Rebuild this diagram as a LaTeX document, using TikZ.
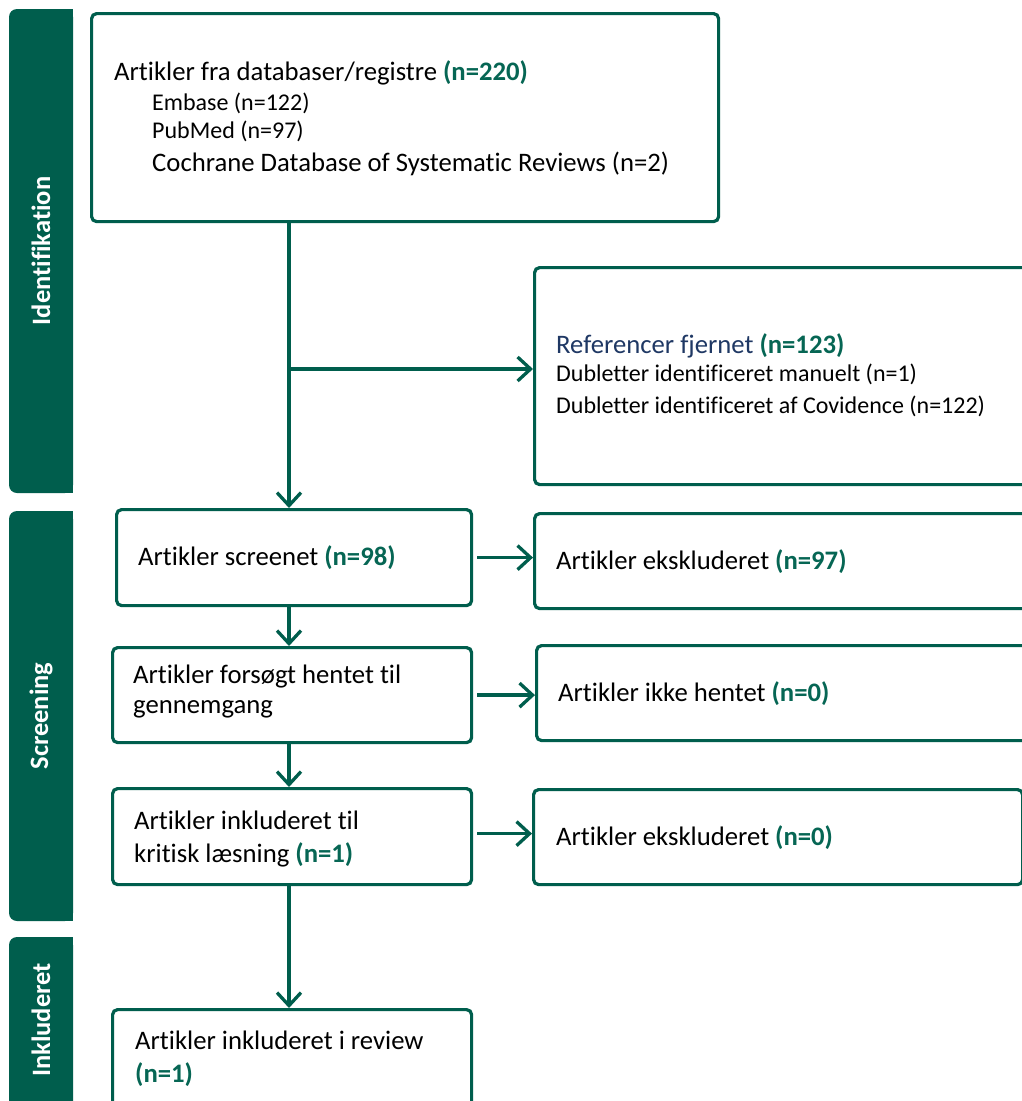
\documentclass[tikz,border=0pt]{standalone}
\usepackage{fontspec}
\setmainfont{Carlito}[Ligatures=NoCommon]
\usetikzlibrary{arrows.meta,calc}
\definecolor{dkgreen}{RGB}{0,94,77}
\definecolor{tgreen}{RGB}{6,102,84}
\definecolor{navy}{RGB}{31,56,100}
\tikzset{
  box/.style={draw=dkgreen, line width=3.2pt, rounded corners=5pt, rectangle, anchor=north west, inner sep=0pt},
  txt/.style={anchor=base west, inner sep=0pt, font=\fontsize{26.7}{31}\selectfont, text=black},
  smalltxt/.style={anchor=base west, inner sep=0pt, font=\fontsize{24}{28}\selectfont, text=black},
  barlab/.style={rotate=90, text=white, font=\bfseries\fontsize{26.5}{30}\selectfont, inner sep=0pt},
  arr/.style={draw=dkgreen, line width=3.3pt, -{Straight Barb[length=13pt,width=24pt,line width=3.3pt]}},
}
\newcommand{\nn}[1]{\textbf{\color{tgreen}#1}}
\begin{document}
\begin{tikzpicture}[x=1pt,y=-1pt]
\clip (0,0) rectangle (1022,1101);
\fill[white] (0,0) rectangle (1022,1101);
% side bars
\foreach \ya/\yb in {9/493, 511/921, 937/1130}{
  \fill[dkgreen, rounded corners=8pt] (9,\ya) rectangle (73,\yb);
  \fill[dkgreen] (40,\ya) rectangle (73,\yb);
}
\node[barlab] (lab1) at (41,251) {Identifikation};
\node[barlab] (lab2) at (41,716) {Screening};
\node[barlab] (lab3) at (41,1020) {Inkluderet};
% boxes
\node[box, minimum width=627pt, minimum height=208pt] (b1) at (90,12) {};
\node[box, minimum width=510pt, minimum height=217pt] (b2) at (533,266) {};
\node[box, minimum width=355pt, minimum height=96pt] (b3) at (115,508) {};
\node[box, minimum width=510pt, minimum height=95pt] (b4) at (533,512) {};
\node[box, minimum width=359pt, minimum height=95pt] (b5) at (111,646) {};
\node[box, minimum width=510pt, minimum height=95pt] (b6) at (535,644) {};
\node[box, minimum width=359pt, minimum height=96pt] (b7) at (111,787) {};
\node[box, minimum width=489pt, minimum height=95pt] (b8) at (532,788) {};
\node[box, minimum width=359pt, minimum height=120pt] (b9) at (111,1008) {};
% texts
\node[txt] (t1a) at (114,80) {Artikler fra databaser/registre \nn{(n=220)}};
\node[smalltxt] (t1b) at (152,110) {Embase (n=122)};
\node[smalltxt] (t1c) at (152,138) {PubMed (n=97)};
\node[txt] (t1d) at (152,171) {Cochrane Database of Systematic Reviews (n=2)};
\node[txt, text=navy] (t2a) at (556,353) {Referencer fjernet \nn{(n=123)}};
\node[smalltxt] (t2b) at (556,381) {Dubletter identificeret manuelt (n=1)};
\node[smalltxt] (t2c) at (556,413) {Dubletter identificeret af Covidence (n=122)};
\node[txt] (t3) at (138,565) {Artikler screenet \nn{(n=98)}};
\node[txt] (t4) at (556,569) {Artikler ekskluderet \nn{(n=97)}};
\node[txt] (t5a) at (133,683) {Artikler forsøgt hentet til};
\node[txt] (t5b) at (133,713) {gennemgang};
\node[txt] (t6) at (558,701) {Artikler ikke hentet \nn{(n=0)}};
\node[txt] (t7a) at (134,829) {Artikler inkluderet til};
\node[txt] (t7b) at (134,862) {kritisk læsning \nn{(n=1)}};
\node[txt] (t8) at (556,845) {Artikler ekskluderet \nn{(n=0)}};
\node[txt] (t9a) at (135,1049) {Artikler inkluderet i review};
\node[txt] (t9b) at (135,1082) {\nn{(n=1)}};
% connectors
\coordinate (spine) at (289,0);
\coordinate (br) at (289,369);
\draw[arr] (b1.south -| spine) -- (b3.north -| spine);
\draw[arr] (br) -- (br -| b2.west);
\draw[arr, shorten <=4pt] (b3.east) -- (b3.east -| b4.west);
\draw[arr, shorten <=4pt] (b5.east) -- (b5.east -| b6.west);
\draw[arr, shorten <=4pt] ($(b7.east)+(0,-3)$) -- ($(b7.east -| b8.west)+(0,-3)$);
\draw[arr] (b3.south -| spine) -- (b5.north -| spine);
\draw[arr] (b5.south -| spine) -- (b7.north -| spine);
\draw[arr] (b7.south -| spine) -- (b9.north -| spine);
\end{tikzpicture}
\end{document}
